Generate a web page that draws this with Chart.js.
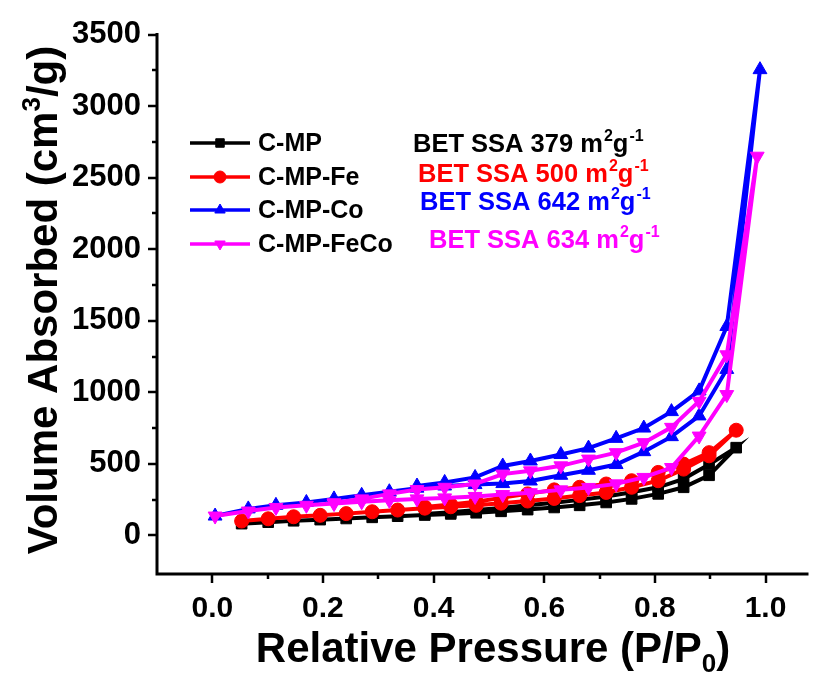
<!DOCTYPE html>
<html>
<head>
<meta charset="utf-8">
<script src="https://cdn.jsdelivr.net/npm/chart.js@4/dist/chart.umd.min.js"></script>
<style>
html,body{margin:0;padding:0;background:#fff;}
#wrap{width:816px;height:675px;position:relative;}
</style>
</head>
<body>
<div id="wrap"><canvas id="c" width="816" height="675"></canvas></div>
<script>
// ---- data ----
const seriesNames = ["C-MP", "C-MP-Fe", "C-MP-Co", "C-MP-FeCo"];
const betLabels = ["BET SSA 379", "BET SSA 500", "BET SSA 642", "BET SSA 634"];

// C-MP
const xCMPads = [0.053,0.101,0.147,0.195,0.242,0.289,0.335,0.384,0.431,0.477,0.522,0.570,0.618,0.664,0.712,0.758,0.806,0.852,0.898,0.947];
const yCMPads = [82,92,102,110,118,126,134,142,150,158,168,180,195,210,230,255,290,336,420,613];
const xCMPdes = [0.898,0.852,0.806,0.758,0.712,0.664,0.618,0.570,0.522,0.477,0.431,0.384];
const yCMPdes = [495,395,336,301,272,248,228,210,192,178,162,150];

// C-MP-Fe
const xFeAds = [0.053,0.101,0.147,0.195,0.242,0.289,0.335,0.384,0.431,0.477,0.522,0.570,0.618,0.664,0.712,0.758,0.806,0.852,0.898,0.947];
const yFeAds = [100,116,130,140,152,165,177,190,200,210,225,240,258,278,300,336,382,463,556,735];
const xFeDes = [0.898,0.852,0.806,0.758,0.712,0.664,0.618,0.570,0.522,0.477,0.431,0.384];
const yFeDes = [578,498,440,382,359,336,318,290,262,235,215,198];

// C-MP-Co
const xCoAds = [0.005,0.065,0.115,0.17,0.22,0.27,0.32,0.37,0.42,0.475,0.525,0.575,0.63,0.68,0.73,0.78,0.83,0.88,0.93,0.99];
const yCoAds = [135,185,210,230,255,280,305,330,345,355,362,380,420,455,495,585,690,835,1160,3255];
const xCoDes = [0.93,0.88,0.83,0.78,0.73,0.68,0.63,0.575,0.525,0.475,0.42,0.37];
const yCoDes = [1460,1010,865,750,678,610,565,520,485,405,370,345];

// C-MP-FeCo
const xFeCoAds = [0.005,0.065,0.115,0.17,0.22,0.27,0.32,0.37,0.42,0.475,0.525,0.575,0.63,0.68,0.73,0.78,0.83,0.88,0.93,0.985];
const yFeCoAds = [135,170,195,210,222,235,245,255,262,272,285,298,318,335,360,405,474,694,984,2650];
const xFeCoDes = [0.93,0.88,0.83,0.78,0.73,0.68,0.63,0.575,0.525,0.475,0.42,0.37,0.32,0.27,0.22];
const yFeCoDes = [1262,937,755,648,578,533,486,451,428,359,336,320,290,255,228];

// axis ticks
const xTickValues = [0.0,0.2,0.4,0.6,0.8,1.0];
const yTickValues = [0,500,1000,1500,2000,2500,3000,3500];

function pts(xa, ya, xd, yd){
  const out = [];
  for (let i=0;i<xa.length;i++) out.push({x:xa[i], y:ya[i]});
  for (let i=0;i<xd.length;i++) out.push({x:xd[i], y:yd[i]});
  return out;
}

const colors = ["#000000", "#ff0000", "#0000ff", "#ff00ff"];
const styles = ["rect", "circle", "triangle", "triangle"];
const rots = [0, 0, 0, 180];
const radii = [7.5, 7, 8, 8];
const dataSets = [
  pts(xCMPads, yCMPads, xCMPdes, yCMPdes),
  pts(xFeAds, yFeAds, xFeDes, yFeDes),
  pts(xCoAds, yCoAds, xCoDes, yCoDes),
  pts(xFeCoAds, yFeCoAds, xFeCoDes, yFeCoDes)
];

const FONT = "'Liberation Sans', Arial, Helvetica, sans-serif";

const decor = {
  id: 'decor',
  beforeDatasetsDraw(chart){
    const ctx = chart.ctx, a = chart.chartArea;
    const xs = chart.scales.x, ys = chart.scales.y;
    ctx.save();
    ctx.strokeStyle = '#000';
    ctx.lineWidth = 3;
    ctx.lineCap = 'square';
    ctx.beginPath();
    ctx.moveTo(a.left, a.top); ctx.lineTo(a.left, a.bottom); ctx.lineTo(a.right, a.bottom);
    ctx.stroke();
    ctx.lineWidth = 2.5;
    ctx.lineCap = 'butt';
    for (let v = 0; v <= 3500; v += 250){
      const p = Math.round(ys.getPixelForValue(v));
      const len = (v % 500 === 0) ? 9 : 5;
      ctx.beginPath(); ctx.moveTo(a.left, p); ctx.lineTo(a.left - len, p); ctx.stroke();
    }
    for (let k = 0; k <= 10; k++){
      const v = k/10;
      const p = Math.round(xs.getPixelForValue(v));
      const len = (k % 2 === 0) ? 9 : 5;
      ctx.beginPath(); ctx.moveTo(p, a.bottom); ctx.lineTo(p, a.bottom + len); ctx.stroke();
    }
    ctx.restore();
  },
  afterDraw(chart){
    const ctx = chart.ctx;
    ctx.save();
    ctx.fillStyle = '#000';
    // x title
    const t1 = "Relative Pressure (P/P", t2 = "0", t3 = ")";
    ctx.font = "bold 42px " + FONT;
    const w1 = ctx.measureText(t1).width, w3 = ctx.measureText(t3).width;
    ctx.font = "bold 26px " + FONT;
    const w2 = ctx.measureText(t2).width;
    const total = w1 + w2 + w3;
    let x0 = 493 - total/2;
    const by = 662;
    ctx.textBaseline = 'alphabetic';
    ctx.textAlign = 'left';
    ctx.font = "bold 42px " + FONT;
    ctx.fillText(t1, x0, by);
    ctx.font = "bold 26px " + FONT;
    ctx.fillText(t2, x0 + w1, by + 10);
    ctx.font = "bold 42px " + FONT;
    ctx.fillText(t3, x0 + w1 + w2, by);

    // y title (rotated)
    ctx.save();
    ctx.translate(57, 300);
    ctx.rotate(-Math.PI/2);
    const s1 = "Volume Absorbed (cm", s2 = "3", s3 = "/g)";
    ctx.font = "bold 42px " + FONT;
    const u1 = ctx.measureText(s1).width, u3 = ctx.measureText(s3).width;
    ctx.font = "bold 26px " + FONT;
    const u2 = ctx.measureText(s2).width;
    let sx = -(u1 + u2 + u3)/2;
    ctx.font = "bold 42px " + FONT;
    ctx.fillText(s1, sx, 0);
    ctx.font = "bold 26px " + FONT;
    ctx.fillText(s2, sx + u1, -17);
    ctx.font = "bold 42px " + FONT;
    ctx.fillText(s3, sx + u1 + u2, 0);
    ctx.restore();

    // legend
    const rowY = [143, 177, 210, 244];
    const betX = [413, 418, 420, 429];
    const betY = [152, 182, 210, 248];
    chart.data.datasets.forEach((ds, i) => {
      const y = rowY[i];
      ctx.strokeStyle = ds.borderColor;
      ctx.fillStyle = ds.borderColor;
      ctx.lineWidth = 3.5;
      ctx.beginPath(); ctx.moveTo(190, y); ctx.lineTo(250, y); ctx.stroke();
      ctx.lineWidth = 1;
      Chart.helpers.drawPoint(ctx, {pointStyle: ds.pointStyle, rotation: ds.rotation, radius: 6, borderWidth: 1}, 220, y);
      ctx.fillStyle = '#000';
      ctx.font = "bold 25px " + FONT;
      ctx.textBaseline = 'middle';
      ctx.fillText(ds.label, 258, y + 1);
      // BET
      ctx.textBaseline = 'alphabetic';
      ctx.fillStyle = ds.borderColor;
      let bx = betX[i];
      const bl = betLabels[i] + " m";
      ctx.font = "bold 25.5px " + FONT;
      ctx.fillText(bl, bx, betY[i]); bx += ctx.measureText(bl).width;
      ctx.font = "bold 16px " + FONT;
      ctx.fillText("2", bx + 1, betY[i] - 11); bx += ctx.measureText("2").width + 1;
      ctx.font = "bold 25.5px " + FONT;
      ctx.fillText("g", bx, betY[i]); bx += ctx.measureText("g").width;
      ctx.font = "bold 16px " + FONT;
      ctx.fillText("-1", bx + 1, betY[i] - 11);
    });
    ctx.restore();
  }
};

const datasets = dataSets.map((d, i) => ({
  label: seriesNames[i],
  data: d,
  borderColor: colors[i],
  backgroundColor: colors[i],
  pointBackgroundColor: colors[i],
  pointBorderColor: colors[i],
  pointStyle: styles[i],
  rotation: rots[i],
  pointRotation: rots[i],
  pointRadius: radii[i],
  pointBorderWidth: 1,
  borderWidth: 4,
  showLine: true,
  tension: 0,
  fill: false,
  order: 4 - i
}));

new Chart(document.getElementById('c'), {
  type: 'scatter',
  data: { datasets },
  options: {
    responsive: false,
    animation: false,
    devicePixelRatio: 1,
    layout: { padding: { left: 0, top: 31, right: 3, bottom: 0 } },
    plugins: { legend: { display: false }, tooltip: { enabled: false } },
    scales: {
      x: {
        type: 'linear', min: -0.1, max: 1.075,
        grid: { display: false, drawTicks: false },
        border: { display: false },
        afterFit(s){ s.height = 101; },
        afterBuildTicks(s){ s.ticks = xTickValues.map(v => ({value: v})); },
        ticks: {
          padding: 17,
          color: '#000',
          font: { family: FONT, size: 30, weight: 'bold' },
          callback: v => Number(v).toFixed(1)
        }
      },
      y: {
        type: 'linear', min: -270, max: 3500,
        grid: { display: false, drawTicks: false },
        border: { display: false },
        afterFit(s){ s.width = 157; },
        afterBuildTicks(s){ s.ticks = yTickValues.map(v => ({value: v})); },
        ticks: {
          padding: 16,
          color: '#000',
          font: { family: FONT, size: 31, weight: 'bold' },
          callback: v => String(v)
        }
      }
    }
  },
  plugins: [decor]
});
</script>
</body>
</html>
